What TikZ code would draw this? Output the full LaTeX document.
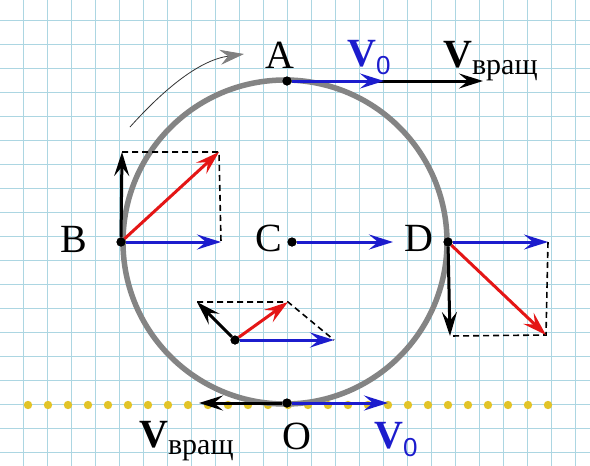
\documentclass[tikz,border=0pt]{standalone}
\usepackage{fontspec}
\setmainfont{Liberation Serif}
\newfontfamily\subfont{Liberation Sans}
\usetikzlibrary{arrows.meta}

\definecolor{gridc}{RGB}{172,214,226}
\definecolor{dotc}{RGB}{226,196,40}
\definecolor{rimc}{RGB}{132,132,132}
\definecolor{vblue}{RGB}{28,28,205}
\definecolor{vred}{RGB}{228,22,22}

\newcommand{\Vrot}{\textbf{V}\raisebox{-7pt}{\fontsize{30}{30}\selectfont вращ}}
\newcommand{\Vnull}{\textbf{V}\raisebox{-8pt}{\subfont\fontsize{26}{26}\selectfont 0}}

\begin{document}
\begin{tikzpicture}[x=1pt,y=-1pt,
    pt/.style={circle,fill=black,inner sep=0pt,minimum size=9pt},
    lbl/.style={inner sep=0pt,anchor=base,font=\fontsize{40}{40}\selectfont},
    vlbl/.style={inner sep=0pt,anchor=base west,font=\fontsize{40}{40}\selectfont},
    vec/.style={line width=3pt,-{Stealth[length=24pt,width=15pt,inset=9pt]}},
    gridline/.style={gridc,line width=1.4pt},
    helper/.style={black,line width=1.6pt,dash pattern=on 6pt off 4pt}]
    \useasboundingbox (0,0) rectangle (590,466);
    \fill[white] (0,0) rectangle (590,466);

    % Squared paper
    \begin{scope}
      \clip (0,0) rectangle (590,466);
      \draw[gridline,shift={(23.5,20.5)}] (-24,-24) grid[step=24pt] (576,456);
    \end{scope}

    % Ground line
    \foreach \k in {0,...,26}
      \fill[dotc] ({28+20*\k},405) circle (4.2pt);

    % Wheel
    \coordinate (ctr) at (285,242);
    \draw[rimc,line width=5.5pt] (ctr) circle (162pt);

    % Sense of rotation
    \coordinate (rotS) at (130,127);
    \coordinate (rotE) at (244,54);
    \draw[black!80,line width=0.8pt,
      -{Stealth[length=24pt,width=15pt,inset=8pt,color=gray]}]
      (rotS) .. controls (165,88) and (200,60) .. (rotE);

    % Points on the wheel
    \node[pt] (A) at (287,81) {};
    \node[pt] (B) at (121,242) {};
    \node[pt] (C) at (292,242) {};
    \node[pt] (D) at (448,242) {};
    \node[pt] (O) at (287,403) {};
    \node[pt] (P) at (235,340) {};

    % Free ends of the vectors
    \coordinate (Av) at (384,81);
    \coordinate (Ar) at (483,81);
    \coordinate (Bv) at (221,242);
    \coordinate (Br) at (122,152);
    \coordinate (Bs) at (219,152);
    \coordinate (Cv) at (393,242);
    \coordinate (Dv) at (548,242);
    \coordinate (Dr) at (450,336);
    \coordinate (Ds) at (546,335);
    \coordinate (Pv) at (334,340);
    \coordinate (Pr) at (197,302);
    \coordinate (Ps) at (288,302);
    \coordinate (Ov) at (388,403);
    \coordinate (Or) at (199,403);

    % Parallelograms
    \draw[helper] (Br) -- (Bs) -- (Bv);
    \draw[helper] (Dv) -- (Ds) -- (Dr);
    \draw[helper] (Pr) -- (Ps) -- (Pv);

    % Rotation velocities
    \draw[vec,black] (A) -- (Ar);
    \draw[vec,black] (B) -- (Br);
    \draw[vec,black] (D) -- (Dr);
    \draw[vec,black] (P) -- (Pr);
    \draw[vec,black] (O) -- (Or);

    % Translation velocities
    \draw[vec,vblue] (A) -- (Av);
    \draw[vec,vblue] (B) -- (Bv);
    \draw[vec,vblue] (C) -- (Cv);
    \draw[vec,vblue] (D) -- (Dv);
    \draw[vec,vblue] (P) -- (Pv);
    \draw[vec,vblue] (O) -- (Ov);

    % Resultants
    \draw[vec,vred] (B) -- (Bs);
    \draw[vec,vred] (D) -- (Ds);
    \draw[vec,vred] (P) -- (Ps);

    % Redraw the points on top
    \foreach \p in {A,B,C,D,O,P}
      \fill (\p) circle (4.5pt);

    % Labels
    \node[lbl] (labA) at (280,68) {A};
    \node[lbl] (labB) at (74,252) {B};
    \node[lbl] (labC) at (269,251) {C};
    \node[lbl] (labD) at (419,251) {D};
    \node[lbl] (labO) at (297,449) {O};
    \node[vlbl,vblue] (labAv) at (347,66) {\Vnull};
    \node[vlbl] (labAr) at (443,67) {\Vrot};
    \node[vlbl,vblue] (labOv) at (374,448) {\Vnull};
    \node[vlbl] (labOr) at (139,447) {\Vrot};
  \end{tikzpicture}
\end{document}
